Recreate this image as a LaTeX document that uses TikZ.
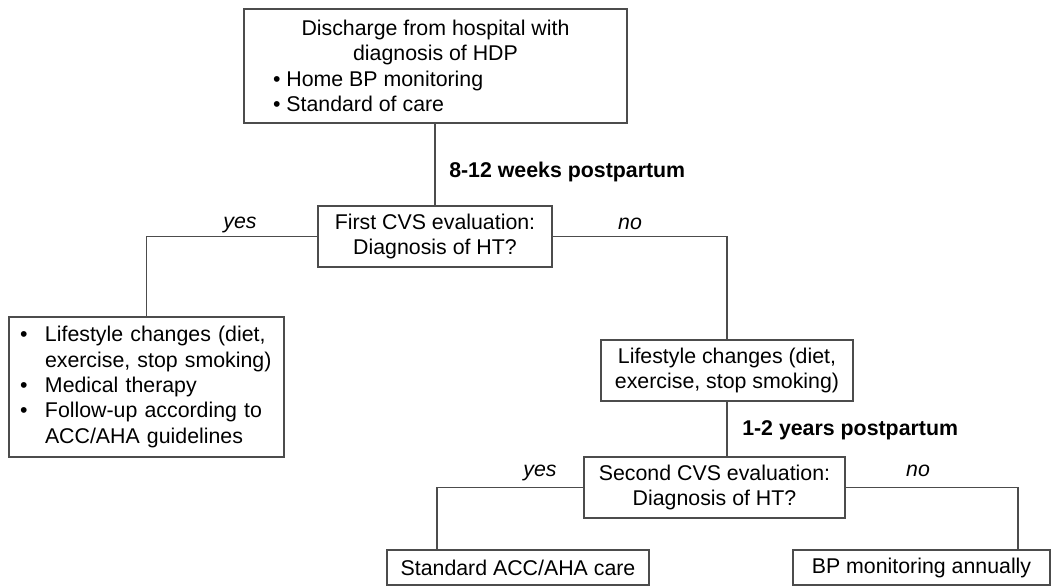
\documentclass[tikz,border=0pt]{standalone}
\usepackage{fontspec}
\setmainfont{Liberation Sans}
\newlength\px \setlength\px{0.75pt}
\begin{document}
\begin{tikzpicture}[x=0.75pt,y=-0.75pt,
  box/.style={draw=black!70, line width=1.1pt, fill=white, inner sep=0pt, align=center,
    font=\fontsize{16}{19}\selectfont, text=black},
  lbl/.style={font=\fontsize{16}{19}\selectfont\itshape, inner sep=0pt, anchor=base},
  timelbl/.style={font=\fontsize{16}{19}\selectfont\bfseries, inner sep=0pt, anchor=base west},
  conn/.style={draw=black!70, line width=1.1pt}]
\useasboundingbox (0,0) rectangle (1052,586);

% boxes
\node[box, minimum width=383\px, minimum height=114\px] (top) at (435.5,66)
  {Discharge from hospital with\\ diagnosis of HDP\\
   \makebox[325\px][l]{• Home BP monitoring}\\
   \makebox[325\px][l]{• Standard of care}};
\node[box, minimum width=234\px, minimum height=61\px] (first) at (435,236.5)
  {First CVS evaluation:\\ Diagnosis of HT?};
\node[box, text width=253\px, inner xsep=11\px, minimum height=140\px, align=left] (treat) at (146.5,387)
  {\makebox[25\px][l]{•}Lifestyle changes (diet,\\
   \hspace*{25\px}exercise, stop smoking)\\
   \makebox[25\px][l]{•}Medical therapy\\
   \makebox[25\px][l]{•}Follow-up according to\\
   \hspace*{25\px}ACC/AHA guidelines};
\node[box, minimum width=252\px, minimum height=61\px] (life) at (727,370.5)
  {Lifestyle changes (diet,\\ exercise, stop smoking)};
\node[box, minimum width=261\px, minimum height=61\px] (second) at (714.5,487.5)
  {Second CVS evaluation:\\ Diagnosis of HT?};
\node[box, minimum width=262\px, minimum height=35\px] (std) at (518,567.5)
  {Standard ACC/AHA care};
\node[box, minimum width=257\px, minimum height=35\px] (bp) at (921.5,567.5)
  {BP monitoring annually};

% helper coordinates
\coordinate (yesB) at (437,487.5);
\coordinate (noB) at (1018,487.5);

% connectors
\draw[conn] (first.north |- top.south) -- (first.north);
\draw[conn] (first.west) -| (treat.north);
\draw[conn] (first.east) -| (life.north);
\draw[conn] (life.south) -- (life.south |- second.north);
\draw[conn] (second.west) -- (yesB) -- (yesB |- std.north);
\draw[conn] (second.east) -- (noB) -- (noB |- bp.north);

% labels
\node[timelbl] (t1) at (449,177) {8-12 weeks postpartum};
\node[timelbl] (t2) at (742,435) {1-2 years postpartum};
\node[lbl] (y1) at (240,228) {yes};
\node[lbl] (n1) at (630,229) {no};
\node[lbl] (y2) at (540,476) {yes};
\node[lbl] (n2) at (918,476) {no};
\end{tikzpicture}
\end{document}
